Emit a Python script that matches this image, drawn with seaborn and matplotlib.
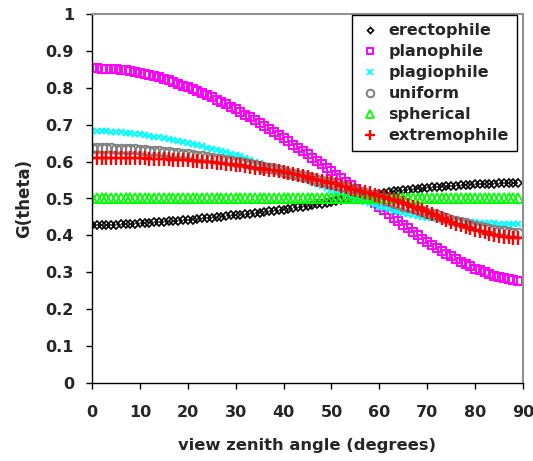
import matplotlib
matplotlib.use("Agg")
import matplotlib.pyplot as plt
import seaborn as sns
import pandas as pd

angles = list(range(0, 90))

erectophile = [0.428, 0.428, 0.428, 0.428, 0.429, 0.429, 0.430, 0.430, 0.431, 0.432,
               0.433, 0.434, 0.434, 0.435, 0.436, 0.437, 0.438, 0.439, 0.440, 0.441,
               0.442, 0.443, 0.444, 0.446, 0.447, 0.448, 0.450, 0.451, 0.452, 0.454,
               0.455, 0.456, 0.458, 0.459, 0.461, 0.462, 0.464, 0.465, 0.467, 0.468,
               0.470, 0.472, 0.474, 0.476, 0.478, 0.480, 0.482, 0.484, 0.486, 0.488,
               0.491, 0.493, 0.495, 0.498, 0.500, 0.503, 0.505, 0.507, 0.509, 0.511,
               0.513, 0.515, 0.517, 0.519, 0.520, 0.522, 0.523, 0.525, 0.526, 0.528,
               0.529, 0.530, 0.531, 0.532, 0.533, 0.534, 0.535, 0.536, 0.537, 0.537,
               0.538, 0.539, 0.539, 0.540, 0.540, 0.541, 0.541, 0.542, 0.542, 0.542]

planophile = [0.853, 0.853, 0.852, 0.852, 0.851, 0.850, 0.848, 0.847, 0.845, 0.842,
              0.840, 0.837, 0.834, 0.831, 0.828, 0.824, 0.820, 0.815, 0.811, 0.806,
              0.801, 0.796, 0.791, 0.786, 0.780, 0.775, 0.768, 0.762, 0.755, 0.749,
              0.742, 0.735, 0.727, 0.720, 0.713, 0.705, 0.697, 0.689, 0.681, 0.672,
              0.664, 0.655, 0.646, 0.638, 0.629, 0.620, 0.611, 0.602, 0.593, 0.584,
              0.575, 0.565, 0.556, 0.546, 0.537, 0.527, 0.517, 0.507, 0.498, 0.488,
              0.478, 0.468, 0.458, 0.448, 0.438, 0.428, 0.419, 0.409, 0.400, 0.391,
              0.382, 0.374, 0.366, 0.358, 0.350, 0.343, 0.336, 0.329, 0.322, 0.316,
              0.310, 0.305, 0.300, 0.295, 0.291, 0.287, 0.284, 0.281, 0.279, 0.277]

plagiophile = [0.683, 0.683, 0.683, 0.682, 0.681, 0.680, 0.679, 0.678, 0.677, 0.675,
               0.674, 0.672, 0.670, 0.668, 0.666, 0.664, 0.661, 0.659, 0.656, 0.654,
               0.651, 0.648, 0.645, 0.642, 0.638, 0.635, 0.632, 0.628, 0.625, 0.621,
               0.618, 0.614, 0.609, 0.605, 0.600, 0.596, 0.591, 0.587, 0.582, 0.578,
               0.573, 0.568, 0.563, 0.559, 0.554, 0.549, 0.544, 0.539, 0.534, 0.529,
               0.524, 0.519, 0.514, 0.509, 0.505, 0.500, 0.496, 0.491, 0.487, 0.482,
               0.478, 0.474, 0.471, 0.467, 0.464, 0.461, 0.458, 0.455, 0.453, 0.450,
               0.448, 0.446, 0.444, 0.443, 0.441, 0.440, 0.439, 0.438, 0.437, 0.436,
               0.435, 0.434, 0.434, 0.433, 0.433, 0.432, 0.432, 0.431, 0.431, 0.431]

uniform = [0.637, 0.637, 0.637, 0.636, 0.636, 0.635, 0.635, 0.634, 0.634, 0.633,
           0.632, 0.631, 0.630, 0.629, 0.628, 0.627, 0.626, 0.624, 0.623, 0.621,
           0.620, 0.618, 0.616, 0.614, 0.612, 0.610, 0.608, 0.606, 0.604, 0.602,
           0.600, 0.598, 0.595, 0.593, 0.590, 0.587, 0.584, 0.582, 0.579, 0.576,
           0.573, 0.570, 0.567, 0.564, 0.561, 0.558, 0.555, 0.551, 0.548, 0.544,
           0.541, 0.537, 0.533, 0.530, 0.526, 0.522, 0.518, 0.514, 0.510, 0.506,
           0.502, 0.498, 0.494, 0.489, 0.485, 0.481, 0.477, 0.473, 0.469, 0.465,
           0.461, 0.457, 0.454, 0.450, 0.447, 0.443, 0.440, 0.436, 0.433, 0.429,
           0.426, 0.423, 0.420, 0.418, 0.415, 0.413, 0.411, 0.409, 0.407, 0.406]

spherical = [0.5] * 90

extremophile = [0.611, 0.611, 0.611, 0.611, 0.611, 0.610, 0.610, 0.610, 0.610, 0.609,
                0.609, 0.609, 0.608, 0.608, 0.607, 0.606, 0.606, 0.605, 0.604, 0.604,
                0.603, 0.602, 0.601, 0.600, 0.599, 0.598, 0.597, 0.596, 0.594, 0.593,
                0.592, 0.590, 0.588, 0.586, 0.584, 0.582, 0.580, 0.578, 0.576, 0.574,
                0.572, 0.569, 0.566, 0.563, 0.560, 0.557, 0.554, 0.551, 0.547, 0.544,
                0.541, 0.538, 0.534, 0.531, 0.527, 0.524, 0.521, 0.517, 0.514, 0.510,
                0.507, 0.503, 0.499, 0.496, 0.492, 0.488, 0.483, 0.478, 0.473, 0.468,
                0.463, 0.458, 0.452, 0.447, 0.442, 0.437, 0.432, 0.428, 0.423, 0.419,
                0.415, 0.411, 0.408, 0.405, 0.402, 0.399, 0.397, 0.395, 0.393, 0.392]

series_names = ["erectophile", "planophile", "plagiophile", "uniform", "spherical", "extremophile"]
series_values = [erectophile, planophile, plagiophile, uniform, spherical, extremophile]

x_ticks = [0, 10, 20, 30, 40, 50, 60, 70, 80, 90]
y_ticks = [0, 0.1, 0.2, 0.3, 0.4, 0.5, 0.6, 0.7, 0.8, 0.9, 1.0]
y_tick_labels = ["0", "0.1", "0.2", "0.3", "0.4", "0.5", "0.6", "0.7", "0.8", "0.9", "1"]

sns.set_style("ticks")
plt.rcParams["font.family"] = ["DejaVu Sans"]
plt.rcParams["font.weight"] = "bold"

styles = {
    "erectophile": dict(marker="D", ms=3.8, mfc="none", mec="black", mew=1.2, color="black"),
    "planophile": dict(marker="s", ms=5.4, mfc="none", mec="#FF00FF", mew=1.4, color="#FF00FF"),
    "plagiophile": dict(marker="x", ms=5.0, mec="#00FFFF", mew=1.4, color="#00FFFF"),
    "uniform": dict(marker="o", ms=6.8, mfc="none", mec="#808080", mew=1.4, color="#808080"),
    "spherical": dict(marker="^", ms=7.2, mfc="none", mec="#00FF00", mew=1.3, color="#00FF00"),
    "extremophile": dict(marker="+", ms=9.5, mec="#FF0000", mew=1.7, color="#FF0000"),
}

fig = plt.figure(figsize=(5.33, 4.61), dpi=100)
ax = fig.add_axes([92 / 533, 1 - 383 / 461, 431 / 533, 369 / 461])

for name, vals in zip(series_names, series_values):
    df = pd.DataFrame({"angle": angles, "G": vals})
    st = styles[name]
    sns.lineplot(data=df, x="angle", y="G", ax=ax, linestyle="none", label=name,
                 marker=st["marker"], markersize=st["ms"],
                 markerfacecolor=st.get("mfc", st["color"]),
                 markeredgecolor=st["mec"], markeredgewidth=st["mew"],
                 color=st["color"])

ax.set_xlim(0, 90)
ax.set_ylim(0, 1)
ax.set_xticks(x_ticks)
ax.set_xticklabels([str(t) for t in x_ticks])
ax.set_yticks(y_ticks)
ax.set_yticklabels(y_tick_labels)
ax.tick_params(axis="both", labelsize=11.5, length=4, width=1, direction="out", color="black")
ax.tick_params(axis="x", pad=12)
ax.tick_params(axis="y", pad=9)
for lab in ax.get_xticklabels() + ax.get_yticklabels():
    lab.set_fontweight("bold")

ax.set_xlabel("view zenith angle (degrees)", fontsize=11.8, fontweight="bold", labelpad=13)
ax.set_ylabel("G(theta)", fontsize=12, fontweight="bold", labelpad=9)

for side in ["left", "bottom"]:
    ax.spines[side].set_color("black")
    ax.spines[side].set_linewidth(1.0)
for side in ["top", "right"]:
    ax.spines[side].set_visible(True)
    ax.spines[side].set_color("#909090")
    ax.spines[side].set_linewidth(1.5)

leg = ax.legend(loc="upper right", bbox_to_anchor=(0.986, 0.997), borderaxespad=0,
                frameon=True, fancybox=False, edgecolor="black", framealpha=1,
                prop={"family": ["DejaVu Sans"], "weight": "bold", "size": 11.5},
                handlelength=1.3, handletextpad=0.5, labelspacing=0.38,
                borderpad=0.5, markerscale=0.8)
leg.get_frame().set_linewidth(1.0)

fig.savefig("out.png", dpi=100, facecolor="white")
